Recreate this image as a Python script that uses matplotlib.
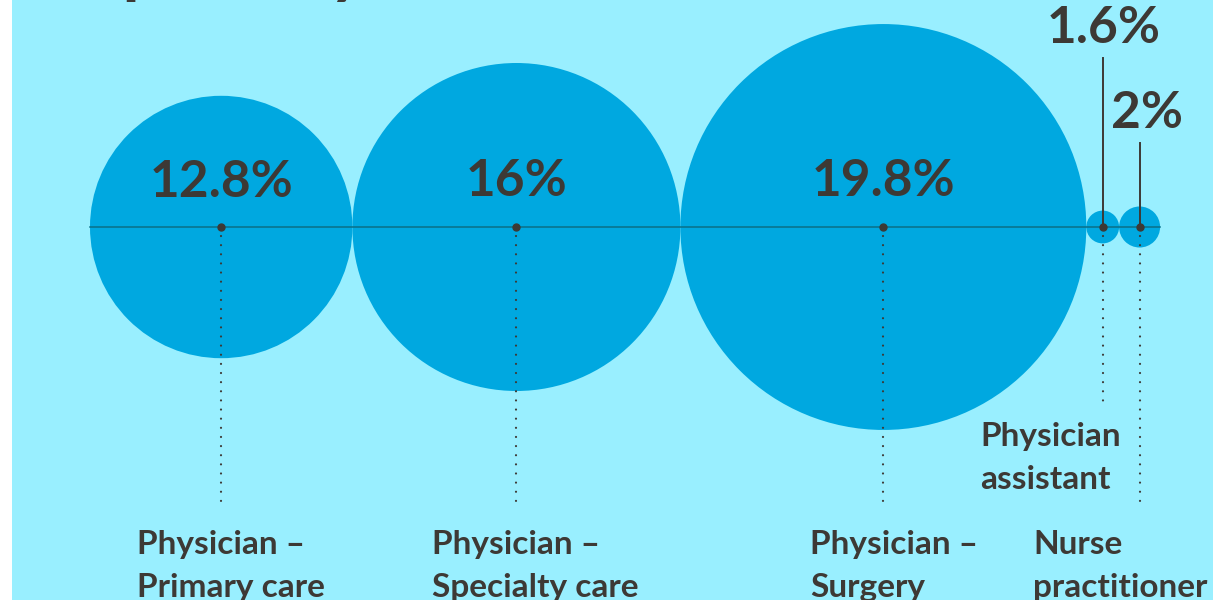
import matplotlib.pyplot as plt
from matplotlib.patches import Circle, Rectangle

# turnover share by role
roles = ['Physician –\nPrimary care', 'Physician –\nSpecialty care', 'Physician –\nSurgery',
         'Physician\nassistant', 'Nurse\npractitioner']
values = [12.8, 16.0, 19.8, 1.6, 2.0]
value_labels = ['12.8%', '16%', '19.8%', '1.6%', '2%']

BG = '#99EFFF'
BUBBLE = '#00A8E0'
INK = '#3D3935'
AXIS = '#0B6F87'

px_per_unit = 10.25  # bubble radius per percentage point
x_start = 90
y_axis = 227

# per-bubble layout: value label baseline, label dx, solid leader top, dotted end, name x, name top
value_y = [197, 196, 196, 43, 128]
value_dx = [0, 0, 0, 1, 7]
leader_top = [None, None, None, 58, 143]
dot_end = [503, 503, 503, 403, 503]
name_x = [137, 432, 810, 980, 1033]
name_top = [530, 530, 530, 422, 530]

fig = plt.figure(figsize=(12.13, 6.0), dpi=100)
fig.patch.set_facecolor('white')
ax = fig.add_axes([0, 0, 1, 1])
ax.set_xlim(0, 1213)
ax.set_ylim(600, 0)
ax.axis('off')

ax.add_patch(Rectangle((12, 0), 1213 - 12, 600, facecolor=BG, edgecolor='none', zorder=0))

# heading, only its descenders reach into view
ax.text(92, -10, 'specialty', fontsize=50, fontfamily='Lato', fontweight='bold',
        color=INK, ha='left', va='baseline', zorder=5)

centers = []
x = x_start
for v in values:
    r = v * px_per_unit
    cx = x + r
    centers.append(cx)
    ax.add_patch(Circle((cx, y_axis), r, facecolor=BUBBLE, edgecolor='none', zorder=1))
    x += 2 * r
x_end = x

ax.plot([x_start, x_end], [y_axis, y_axis], color=AXIS, lw=1.1, zorder=2)

for i, cx in enumerate(centers):
    ax.plot([cx, cx], [y_axis + 9, dot_end[i]], color=INK, lw=1.6,
            linestyle=(0, (0.01, 4.1)), dash_capstyle='round', zorder=3)
    if leader_top[i] is not None:
        ax.plot([cx, cx], [leader_top[i], y_axis], color=INK, lw=1.4, zorder=3)
    ax.plot([cx], [y_axis], 'o', color=INK, markersize=5, zorder=4)
    ax.text(cx + value_dx[i], value_y[i], value_labels[i], fontsize=37, fontfamily='Lato',
            fontweight='bold', color=INK, ha='center', va='baseline', zorder=5)
    ax.text(name_x[i], name_top[i], roles[i], fontsize=24, fontfamily='Lato',
            fontweight='bold', color=INK, ha='left', va='top', linespacing=1.6, zorder=5)

fig.savefig('out.png', dpi=100, facecolor=fig.get_facecolor())
